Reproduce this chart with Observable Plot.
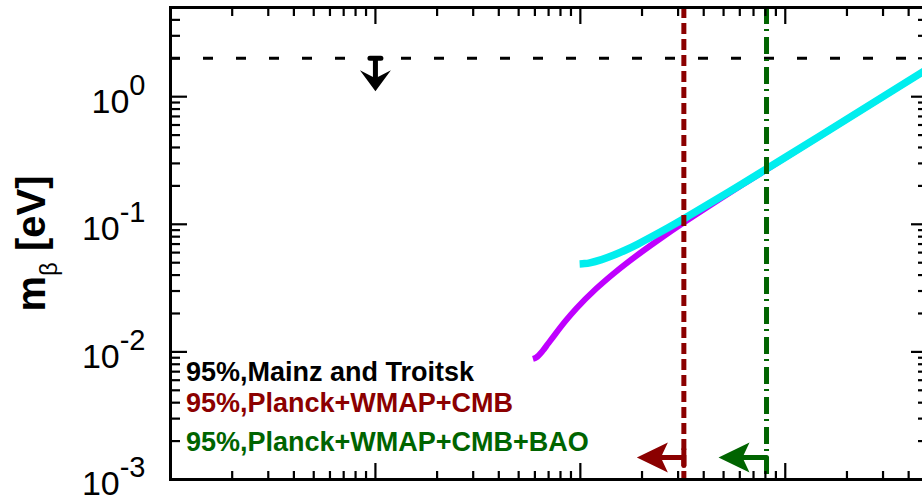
<!DOCTYPE html>
<html><head><meta charset="utf-8">
<script src="https://cdn.jsdelivr.net/npm/d3@7"></script>
<script src="https://cdn.jsdelivr.net/npm/@observablehq/plot@0.6"></script>
<style>html,body{margin:0;padding:0;background:#fff} svg{display:block}</style>
</head><body><div id="chart"></div>
<script>
// Normal hierarchy (purple): sum of masses [eV] vs m_beta [eV]
const sumNH = [0.0587, 0.0609, 0.0652, 0.0695, 0.0742, 0.0845, 0.0956, 0.1195, 0.145, 0.1715, 0.255, 0.312, 0.606, 1.50, 3.00, 4.80];
const mbNH  = [0.0088, 0.00903, 0.0101, 0.01157, 0.0133, 0.0174, 0.0219, 0.0313, 0.0410, 0.0508, 0.0805, 0.1004, 0.2002, 0.500, 1.000, 1.600];
// Inverted hierarchy (cyan)
const sumIH = [0.0992, 0.1048, 0.1112, 0.127, 0.146, 0.1675, 0.191, 0.268, 0.323, 0.612, 1.505, 3.00, 4.80];
const mbIH  = [0.0489, 0.0492, 0.0499, 0.0529, 0.0574, 0.0632, 0.0700, 0.0938, 0.1113, 0.2059, 0.5024, 1.001, 1.601];
// Bounds
const mainzTroitsk = 2;     // m_beta upper bound [eV]
const planckCMB = 0.32;     // sum bound [eV]
const planckCMBBAO = 0.81;  // sum bound [eV]
const boundLabels = ["95%,Mainz and Troitsk", "95%,Planck+WMAP+CMB", "95%,Planck+WMAP+CMB+BAO"];
const boundColors = ["#000000", "#8b0000", "#006400"];
// Ticks
const xMajor = [0.001, 0.01, 0.1, 1];
const xMinor = [0.002,0.003,0.004,0.005,0.006,0.007,0.008,0.009,0.02,0.03,0.04,0.05,0.06,0.07,0.08,0.09,0.2,0.3,0.4,0.5,0.6,0.7,0.8,0.9,2,3,4];
const yMajor = [0.001, 0.01, 0.1, 1];
const yMinor = [0.002,0.003,0.004,0.005,0.006,0.007,0.008,0.009,0.02,0.03,0.04,0.05,0.06,0.07,0.08,0.09,0.2,0.3,0.4,0.5,0.6,0.7,0.8,0.9,2,3,4];
const yTickLabels = ["10^-3", "10^-2", "10^-1", "10^0"];
const yTitle = "m_β [eV]";

const nh = sumNH.map((s, i) => ({s, m: mbNH[i]}));
const ih = sumIH.map((s, i) => ({s, m: mbIH[i]}));

function headShape(hl, hw, notch) {
  return {draw(ctx, l) {
    ctx.moveTo(0, -l);
    ctx.lineTo(hw, -l + hl);
    ctx.lineTo(0, -l + hl - notch);
    ctx.lineTo(-hw, -l + hl);
    ctx.closePath();
  }};
}
function stemShape(hl, notch, tbar) {
  return {draw(ctx, l) {
    ctx.moveTo(-tbar, 0); ctx.lineTo(tbar, 0);
    ctx.moveTo(0, 0); ctx.lineTo(0, -l + hl - notch + 1);
  }};
}

const W = 922, H = 498, ML = 170, MR = -6, MT = 7, MB = 19;
const frameW = W - ML - MR, frameH = H - MT - MB;

// inward ticks: short rules inset from the frame edges
function ticksX(values, side, len) {
  const inset = side === "bottom" ? {insetTop: frameH - len} : {insetBottom: frameH - len};
  return Plot.ruleX(values, {x: d => d, stroke: "#000", strokeWidth: 2.2, ...inset});
}
function ticksY(values, side, len) {
  const inset = side === "left" ? {insetRight: frameW - len} : {insetLeft: frameW - len};
  return Plot.ruleY(values, {y: d => d, stroke: "#000", strokeWidth: 2.2, ...inset});
}

const font = "'Liberation Sans', Arial, Helvetica, sans-serif";

const plot = Plot.plot({
  width: W, height: H,
  marginLeft: ML, marginRight: MR, marginTop: MT, marginBottom: MB,
  style: {fontFamily: font, background: "#fff", color: "#000"},
  x: {type: "log", domain: [0.001, 5]},
  y: {type: "log", domain: [0.001, 5]},
  marks: [
    Plot.line(nh, {x: "s", y: "m", stroke: "#bf00ff", strokeWidth: 6, curve: "catmull-rom", strokeLinecap: "butt"}),
    Plot.line(ih, {x: "s", y: "m", stroke: "#00eeee", strokeWidth: 7.5, curve: "catmull-rom", strokeLinecap: "butt"}),
    Plot.ruleY([mainzTroitsk], {stroke: "#000", strokeWidth: 3, strokeDasharray: "10,23"}),
    Plot.ruleX([planckCMB], {stroke: boundColors[1], strokeWidth: 5, strokeDasharray: "11,5"}),
    Plot.ruleX([planckCMBBAO], {stroke: boundColors[2], strokeWidth: 5, strokeDasharray: "17,5,2,6"}),
    // down arrow on Mainz and Troitsk bound
    Plot.vector([{x: 0.01, y: mainzTroitsk}], {x: "x", y: "y", rotate: 180, length: 33, anchor: "start", shape: stemShape(21, 8, 5.5), stroke: "#000", strokeWidth: 5}),
    Plot.vector([{x: 0.01, y: mainzTroitsk}], {x: "x", y: "y", rotate: 180, length: 33, anchor: "start", shape: headShape(21, 15.5, 8), fill: "#000", stroke: "none"}),
    // left arrows on cosmology bounds
    Plot.vector([planckCMB], {x: d => d, frameAnchor: "bottom", dy: -22, rotate: -90, length: 47, anchor: "start", shape: stemShape(31, 7, 8), stroke: boundColors[1], strokeWidth: 5}),
    Plot.vector([planckCMB], {x: d => d, frameAnchor: "bottom", dy: -22, rotate: -90, length: 47, anchor: "start", shape: headShape(31, 15, 7), fill: boundColors[1], stroke: "none"}),
    Plot.vector([planckCMBBAO], {x: d => d, frameAnchor: "bottom", dy: -22, rotate: -90, length: 48, anchor: "start", shape: stemShape(31, 7, 0), stroke: boundColors[2], strokeWidth: 5}),
    Plot.vector([planckCMBBAO], {x: d => d, frameAnchor: "bottom", dy: -22, rotate: -90, length: 48, anchor: "start", shape: headShape(31, 15, 7), fill: boundColors[2], stroke: "none"}),
    // legend texts
    Plot.text([boundLabels[0]], {text: d => d, frameAnchor: "bottom-left", dx: 15.5, dy: -99, lineAnchor: "bottom", textAnchor: "start", fill: boundColors[0], fontSize: 27, fontWeight: "bold"}),
    Plot.text([boundLabels[1]], {text: d => d, frameAnchor: "bottom-left", dx: 15.5, dy: -68, lineAnchor: "bottom", textAnchor: "start", fill: boundColors[1], fontSize: 27, fontWeight: "bold"}),
    Plot.text([boundLabels[2]], {text: d => d, frameAnchor: "bottom-left", dx: 15.5, dy: -29, lineAnchor: "bottom", textAnchor: "start", fill: boundColors[2], fontSize: 27, fontWeight: "bold"}),
    // y title
    Plot.text([yTitle], {text: d => d, frameAnchor: "left", dx: -126, rotate: -90, lineAnchor: "bottom", textAnchor: "middle", fontSize: 40, fontWeight: "bold", fill: "#000"}),
    // y tick labels
    Plot.axisY({anchor: "left", ticks: yMajor, tickSize: 0, tickPadding: 25, tickFormat: d => yTickLabels[yMajor.indexOf(d)], label: null, fontSize: 34, dy: 5}),
    Plot.axisX({anchor: "bottom", ticks: [], tickSize: 0, label: null}),
    Plot.frame({stroke: "#000", strokeWidth: 3}),
    // inward ticks on all four sides
    ticksX(xMajor, "bottom", 16), ticksX(xMinor, "bottom", 8),
    ticksX(xMajor, "top", 17), ticksX(xMinor, "top", 9),
    ticksY(yMajor, "left", 17), ticksY(yMinor, "left", 10),
    ticksY(yMajor, "right", 17), ticksY(yMinor, "right", 10)
  ]
});

const NS = "http://www.w3.org/2000/svg";
function tspan(txt, attrs) {
  const t = document.createElementNS(NS, "tspan");
  for (const k in attrs) t.setAttribute(k, attrs[k]);
  t.textContent = txt;
  return t;
}
plot.querySelectorAll("text").forEach(t => {
  const s = t.textContent;
  const m = /^10\^(.+)$/.exec(s);
  if (m) {
    t.textContent = "";
    t.appendChild(tspan("10", {}));
    t.appendChild(tspan(m[1], {"font-size": 29, dy: -18}));
  } else if (s === yTitle) {
    t.textContent = "";
    t.appendChild(tspan("m", {}));
    t.appendChild(tspan("β", {"font-size": 24, "font-weight": "normal", dy: 12}));
    t.appendChild(tspan(" [eV]", {dy: -12}));
  }
});
document.getElementById("chart").appendChild(plot);
</script>
</body></html>
